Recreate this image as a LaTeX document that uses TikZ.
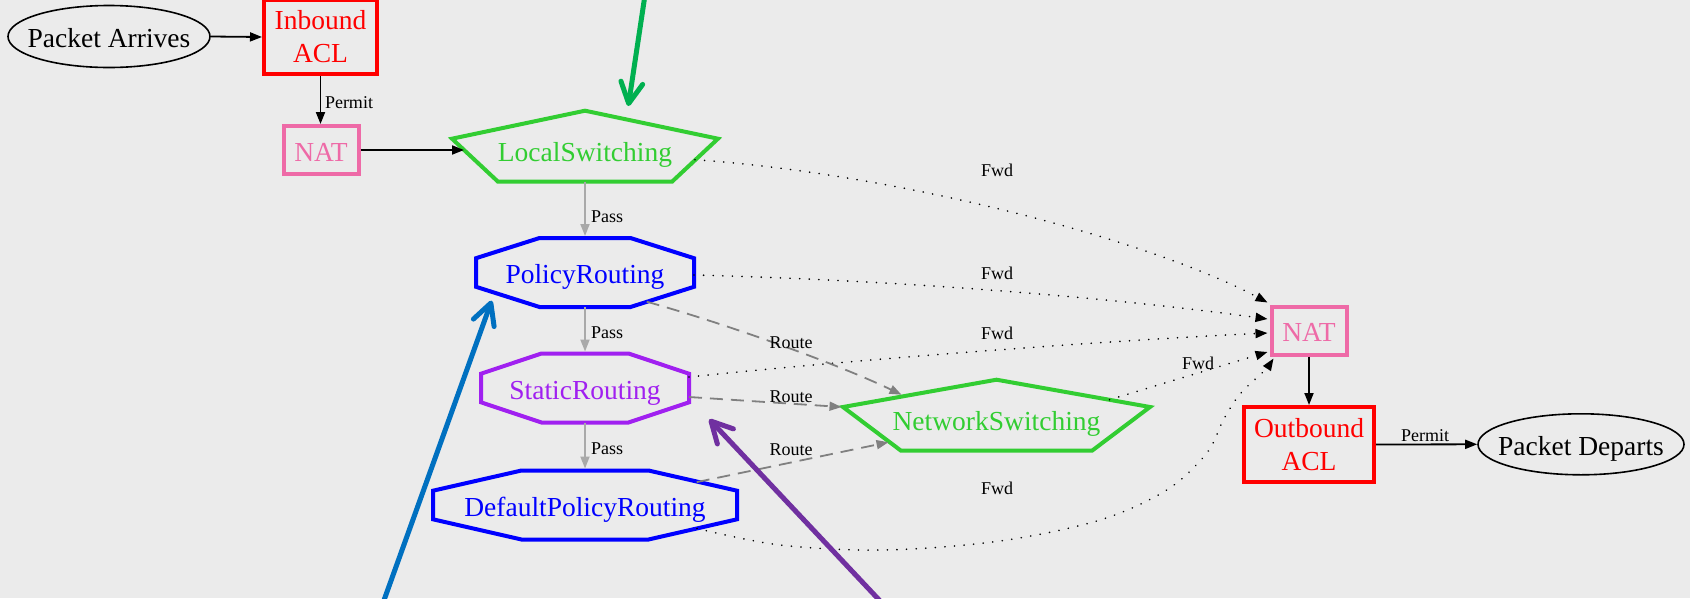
\documentclass[tikz,border=0pt]{standalone}
\usepackage{fontspec}
\setmainfont{Liberation Serif}
\usetikzlibrary{arrows.meta,calc,shapes.geometric}
\definecolor{bg}{HTML}{EBEBEB}
\definecolor{gvred}{HTML}{FF0000}
\definecolor{gvpink}{HTML}{EE6AA7}
\definecolor{gvgreen}{HTML}{32CD32}
\definecolor{gvblue}{HTML}{0000FF}
\definecolor{gvpurple}{HTML}{A020F0}
\definecolor{gvgray}{HTML}{A9A9A9}
\definecolor{gvdash}{HTML}{808080}
\definecolor{anngreen}{HTML}{00B050}
\definecolor{annblue}{HTML}{0070C0}
\definecolor{annpurple}{HTML}{7030A0}
\begin{document}
\begin{tikzpicture}[x=1pt,y=-1pt,
  big/.style={font=\fontsize{27.5}{33}\selectfont},
  oneline/.style={text height=22pt,text depth=0pt},
  ell/.style={ellipse,draw=black,line width=1.6pt,inner sep=0pt,big,oneline},
  acl/.style={rectangle,draw=gvred,line width=4pt,inner sep=0pt,big,align=center,text=gvred},
  natbox/.style={rectangle,draw=gvpink,line width=4pt,inner sep=0pt,big,oneline,text=gvpink,minimum width=75pt,minimum height=48pt},
  shapetext/.style={inner sep=0pt,big,oneline},
  poly/.style={line width=4pt,line join=miter},
  lbl/.style={font=\fontsize{18}{21}\selectfont,text height=12pt,text depth=0pt,inner sep=0pt},
  edge/.style={line width=1.8pt,-{Triangle[length=12pt,width=9pt]}},
  pass/.style={edge,draw=gvgray},
  fwd/.style={edge,dash pattern=on 0.01pt off 9.6pt,line cap=round},
  route/.style={edge,draw=gvdash,dash pattern=on 13pt off 8pt},
  ann/.style={line width=5pt,line cap=round,-{Straight Barb[length=21pt,width=22pt,line cap=round,line join=round]}}
]
\useasboundingbox (0,0) rectangle (1690,598);
\fill[bg] (0,0) rectangle (1690,598);

% nodes
\node[ell,minimum width=202pt,minimum height=62pt] (pa) at (109,36.5) {\makebox[0pt]{Packet Arrives}};
\node[acl,minimum width=113pt,minimum height=74pt] (in) at (320.5,37) {Inbound\\ACL};
\node[natbox] (nat1) at (321,150) {NAT};
\node[shapetext,text=gvgreen] (ls) at (585,150.7) {LocalSwitching};
\node[shapetext,text=gvblue] (pr) at (585,272.5) {PolicyRouting};
\node[shapetext,text=gvpurple] (sr) at (585,388) {StaticRouting};
\node[shapetext,text=gvblue] (dpr) at (585,505) {DefaultPolicyRouting};
\node[shapetext,text=gvgreen] (ns) at (996.5,419.7) {NetworkSwitching};
\node[natbox] (nat2) at (1309,330.5) {NAT};
\node[acl,minimum width=130pt,minimum height=75pt] (out) at (1309,444.5) {Outbound\\ACL};
\node[ell,minimum width=206pt,minimum height=61pt] (pd) at (1581,444.3) {\makebox[0pt]{Packet Departs}};

% polygon outlines
\draw[poly,gvgreen,shift={(ls.center)}] (0,-40) -- (-133,-12) -- (-87,31) -- (87,31) -- (133,-12) -- cycle;
\draw[poly,gvblue,shift={(pr.center)}] (-45.5,-34.5) -- (45.5,-34.5) -- (109,-14.3) -- (109,14.3) -- (45.5,34.5) -- (-45.5,34.5) -- (-109,14.3) -- (-109,-14.3) -- cycle;
\draw[poly,gvpurple,shift={(sr.center)}] (-43.5,-34.5) -- (43.5,-34.5) -- (104,-14.3) -- (104,14.3) -- (43.5,34.5) -- (-43.5,34.5) -- (-104,14.3) -- (-104,-14.3) -- cycle;
\draw[poly,gvblue,shift={(dpr.center)}] (-63.5,-34.5) -- (63.5,-34.5) -- (152,-14.3) -- (152,14.3) -- (63.5,34.5) -- (-63.5,34.5) -- (-152,14.3) -- (-152,-14.3) -- cycle;
\draw[poly,gvgreen,shift={(ns.center)}] (0,-40) -- (-153.5,-12.7) -- (-95.5,31) -- (95.5,31) -- (153.5,-12.7) -- cycle;

% edges
\draw[edge] (pa.east) -- (in.west);
\draw[edge] (in.south) -- (in.south |- nat1.north);
\draw[edge] (nat1.east) -- ([shift={(-121,-0.7)}]ls.center);
\draw[pass] ([shift={(0,31)}]ls.center) -- ([shift={(0,-36.5)}]pr.center);
\draw[pass] ([shift={(0,34.5)}]pr.center) -- ([shift={(0,-36.5)}]sr.center);
\draw[pass] ([shift={(0,34.5)}]sr.center) -- ([shift={(0,-36.5)}]dpr.center);

\draw[fwd] ([shift={(110,9)}]ls.center) .. controls (900,174) and (1150,240) .. ([shift={(-2,-2)}]nat2.north west);
\draw[fwd] ([shift={(109,2.5)}]pr.center) .. controls (890,280) and (1100,296) .. ([shift={(-2,-11.5)}]nat2.west);
\draw[fwd] ([shift={(104,-11)}]sr.center) .. controls (850,360) and (1100,341) .. ([shift={(-2,2.5)}]nat2.west);
\draw[fwd] ([shift={(113,-20)}]ns.center) -- ([shift={(-2,21.5)}]nat2.west);
\draw[fwd] plot[smooth,tension=0.55] coordinates {([shift={(112,23.5)}]dpr.center) (780,545) (884,550) (1000,541) (1100,520) (1166.7,490) (1206.7,453.3) (1223.3,420) (1240,394) (1263.3,371.7) ([shift={(4,2)}]nat2.south west)};

\draw[route] ([shift={(61.7,29.2)}]pr.center) .. controls (730,325) and (840,365) .. ([shift={(-95,-25)}]ns.center);
\draw[route] ([shift={(104,9)}]sr.center) -- ([shift={(-155,-12.7)}]ns.center);
\draw[route] ([shift={(111.7,-22.9)}]dpr.center) -- ([shift={(-108,22.5)}]ns.center);

\draw[edge] (nat2.south) -- (out.north);
\draw[edge] (out.east) -- (pd.west);

% labels
\node[lbl] (lpermit1) at (349,102.5) {Permit};
\node[lbl] (lpass1) at (607,216) {Pass};
\node[lbl] (lpass2) at (607,332.5) {Pass};
\node[lbl] (lpass3) at (607,448.7) {Pass};
\node[lbl] (lfwd1) at (997,170.3) {Fwd};
\node[lbl] (lfwd2) at (997,273) {Fwd};
\node[lbl] (lfwd3) at (997,333) {Fwd};
\node[lbl] (lfwd4) at (1198,363) {Fwd};
\node[lbl] (lfwd5) at (997,488) {Fwd};
\node[lbl] (lroute1) at (791,342.5) {Route};
\node[lbl] (lroute2) at (791,396.5) {Route};
\node[lbl] (lroute3) at (791,449) {Route};
\node[lbl] (lpermit2) at (1425,435) {Permit};

% annotation arrows
\coordinate (g0) at (645,-5);
\coordinate (g1) at (628.3,106);
\coordinate (b0) at (383,603);
\coordinate (b1) at (491.7,300.7);
\coordinate (p0) at (882,603);
\coordinate (p1) at (709.3,419.3);
\draw[ann,anngreen] (g0) -- (g1);
\draw[ann,annblue] (b0) -- (b1);
\draw[ann,annpurple] (p0) -- (p1);
\end{tikzpicture}
\end{document}
